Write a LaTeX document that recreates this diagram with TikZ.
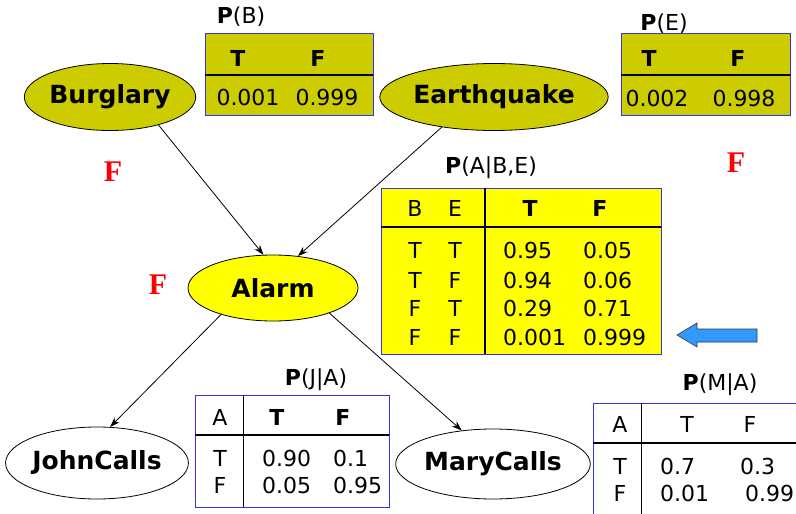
\documentclass[tikz,border=0pt]{standalone}
\usepackage{fontspec}
\setmainfont{DejaVu Sans}
\newfontfamily\timesfont{Liberation Serif}
\usetikzlibrary{shapes.geometric,arrows.meta}

\definecolor{cptolive}{HTML}{CCCC00}
\definecolor{cptyellow}{HTML}{FFFF00}
\definecolor{cptblue}{HTML}{3333EE}
\definecolor{hintblue}{HTML}{3399FF}

\tikzset{
  var/.style={ellipse, draw, line width=0.8pt, inner sep=0pt, font=\fontsize{25}{30}\selectfont\bfseries},
  cpt/.style={draw=cptblue, line width=1pt},
  cell/.style={inner sep=0pt, font=\fontsize{22}{26}\selectfont},
  head/.style={cell, font=\fontsize{22}{26}\selectfont\bfseries},
  rule/.style={line width=1.5pt},
  edge/.style={line width=0.8pt, -{Stealth[length=10pt,width=7pt]}},
  mark/.style={}, 
  flag/.style={inner sep=0pt, text=red, font=\fontsize{30}{34}\timesfont\bfseries}
}

\begin{document}
\begin{tikzpicture}[x=1pt,y=-1pt]
\useasboundingbox (0,0) rectangle (796,514);

% the network
\node[var, fill=cptolive, minimum width=171pt, minimum height=67pt] (burglary) at (110,97) {Burglary};
\node[var, fill=cptolive, minimum width=214pt, minimum height=67pt] (earthquake) at (494,97) {Earthquake};
\node[var, fill=cptyellow, minimum width=170pt, minimum height=66pt] (alarm) at (273,288) {Alarm};
\node[var, fill=white, minimum width=169pt, minimum height=72pt] (john) at (97,463) {JohnCalls};
\node[var, fill=white, minimum width=176pt, minimum height=70pt] (mary) at (493,464) {MaryCalls};

\draw[edge] (burglary.-30) -- (alarm.106);
\draw[edge] (earthquake.-150) -- (alarm.52);
\draw[edge] (alarm.-153) -- (john.70);
\draw[edge] (alarm.-24) -- (mary.133);

% P(B)
\node[cell] (pbtitle) at (241,17) {\textbf{P}(B)};
\draw[cpt, fill=cptolive] (205,33) rectangle (373,115);
\draw[rule] (205,75) -- (373,75);
\node[head] (pbT) at (238,58) {T};
\node[head] (pbF) at (318,58) {F};
\node[cell] (pbt) at (248,97) {0.001};
\node[cell] (pbf) at (327,97) {0.999};

% P(E)
\node[cell] (petitle) at (664,24) {\textbf{P}(E)};
\draw[cpt, fill=cptolive] (621,33) rectangle (790,115);
\draw[rule] (621,75) -- (790,75);
\node[head] (peT) at (649,58) {T};
\node[head] (peF) at (738,58) {F};
\node[cell] (pet) at (657,98) {0.002};
\node[cell] (pef) at (744,98) {0.998};

% P(A|B,E)
\node[cell] (patitle) at (491,168) {\textbf{P}(A|B,E)};
\draw[cpt, fill=cptyellow] (381,188) rectangle (661,354);
\draw[rule] (381,227) -- (661,227);
\draw[rule] (485,188) -- (485,354);
\node[cell] (paB) at (415,208) {B};
\node[cell] (paE) at (455,208) {E};
\node[head] (paT) at (530,208) {T};
\node[head] (paF) at (600,208) {F};
\node[cell] (pab1) at (415,250) {T}; \node[cell] (pae1) at (455,250) {T};
\node[cell] (pab2) at (415,280) {T}; \node[cell] (pae2) at (455,280) {F};
\node[cell] (pab3) at (415,308) {F}; \node[cell] (pae3) at (455,308) {T};
\node[cell] (pab4) at (415,337) {F}; \node[cell] (pae4) at (455,337) {F};
\node[cell, anchor=west] (pat1) at (503,250) {0.95};  \node[cell, anchor=west] (paf1) at (583,250) {0.05};
\node[cell, anchor=west] (pat2) at (503,280) {0.94};  \node[cell, anchor=west] (paf2) at (583,280) {0.06};
\node[cell, anchor=west] (pat3) at (503,308) {0.29};  \node[cell, anchor=west] (paf3) at (583,308) {0.71};
\node[cell, anchor=west] (pat4) at (503,337) {0.001}; \node[cell, anchor=west] (paf4) at (583,337) {0.999};

% P(J|A)
\node[cell] (pjtitle) at (316,380) {\textbf{P}(J|A)};
\draw[cpt, fill=white] (195,395) rectangle (389,507);
\draw[rule] (195,435) -- (389,435);
\draw[line width=0.8pt] (243,395) -- (243,507);
\node[cell] (pjA) at (220,417) {A};
\node[head] (pjT) at (277,417) {T};
\node[head] (pjF) at (343,417) {F};
\node[cell] (pja1) at (220,458) {T};
\node[cell] (pja2) at (220,485) {F};
\node[cell, anchor=west] (pjt1) at (262,458) {0.90}; \node[cell, anchor=west] (pjf1) at (333,458) {0.1};
\node[cell, anchor=west] (pjt2) at (262,485) {0.05}; \node[cell, anchor=west] (pjf2) at (333,485) {0.95};

% P(M|A)
\node[cell] (pmtitle) at (720,385) {\textbf{P}(M|A)};
\draw[cpt] (796,403) -- (593,403) -- (593,514);
\draw[rule] (593,443) -- (796,443);
\draw[line width=0.8pt] (641,403) -- (641,514);
\node[cell] (pmA) at (620,424) {A};
\node[cell] (pmT) at (687,424) {T};
\node[cell] (pmF) at (750,424) {F};
\node[cell] (pma1) at (620,466) {T};
\node[cell] (pma2) at (620,493) {F};
\node[cell, anchor=west] (pmt1) at (660,466) {0.7};  \node[cell, anchor=west] (pmf1) at (740,466) {0.3};
\node[cell, anchor=west] (pmt2) at (660,493) {0.01}; \node[cell, anchor=west] (pmf2) at (745,493) {0.99};

% marks
\node[flag] (flagb) at (113,172) {F};
\node[flag] (flaga) at (158,285) {F};
\node[flag] (flage) at (736,163) {F};

% pointer
\draw[fill=hintblue, draw=black!80, line width=0.6pt] (677,335) -- (697,323) -- (697,329) -- (757,329)
  -- (757,342) -- (697,342) -- (697,347) -- cycle;

\end{tikzpicture}
\end{document}
